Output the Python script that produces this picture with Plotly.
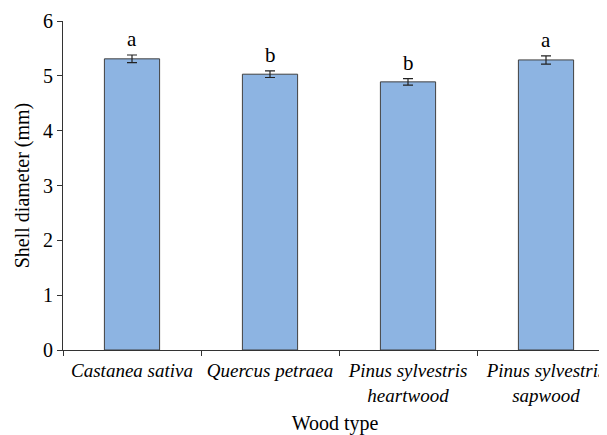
import plotly.graph_objects as go

categories = ["Castanea sativa", "Quercus petraea", "Pinus sylvestris<br>heartwood", "Pinus sylvestris<br>sapwood"]
diameters = [5.31, 5.03, 4.89, 5.29]
errors = [0.07, 0.06, 0.06, 0.075]
letters = ["a", "b", "b", "a"]
y_ticks = [0, 1, 2, 3, 4, 5, 6]

FONT = "Liberation Serif"

fig = go.Figure()
fig.add_trace(go.Bar(
    x=categories, y=diameters,
    width=0.4,
    marker=dict(color="#8DB4E2", line=dict(color="#404040", width=1)),
    error_y=dict(type="data", array=errors, visible=True, color="#222222", thickness=1.2, width=5),
))

for c, v, e, l in zip(categories, diameters, errors, letters):
    fig.add_annotation(x=c, y=v + e, text=l, showarrow=False, yanchor="bottom", yshift=2,
                       font=dict(family=FONT, size=21, color="black"))

# page body adds 8px around the figure, so the figure is 8px smaller than the window
fig.update_layout(
    width=599, height=427,
    margin=dict(l=55, r=0, t=13, b=85),
    plot_bgcolor="white", paper_bgcolor="white",
    showlegend=False,
    font=dict(family=FONT, size=20, color="black"),
)
fig.update_xaxes(
    range=[-0.5, 3.442], automargin=False,
    tickson="boundaries", ticks="outside", ticklen=5, tickcolor="#333333",
    ticklabelstandoff=3,
    showline=True, linecolor="#333333", linewidth=1, showgrid=False,
    tickfont=dict(family=FONT, size=19, style="italic", color="black"),
    title=dict(text="Wood type", font=dict(family=FONT, size=20, color="black"), standoff=12),
)
fig.update_yaxes(
    range=[0, 6], tickvals=y_ticks, automargin=False,
    ticks="outside", ticklen=5, tickcolor="#333333",
    showline=True, linecolor="#333333", linewidth=1, showgrid=False, zeroline=False,
    tickfont=dict(family=FONT, size=20, color="black"),
    title=dict(text="Shell diameter (mm)", font=dict(family=FONT, size=20, color="black"), standoff=8),
)

fig.write_html("out.html")
